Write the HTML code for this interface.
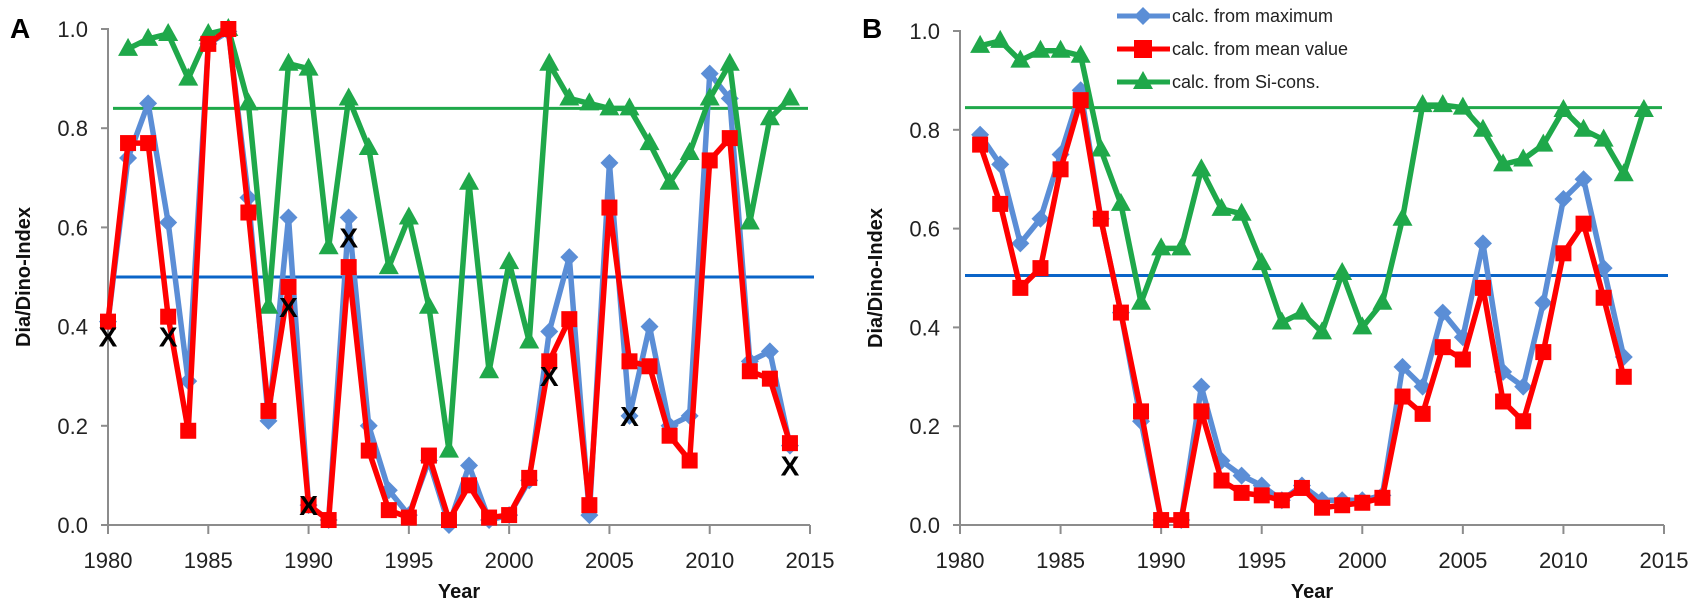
<!DOCTYPE html>
<html><head><meta charset="utf-8"><style>
html,body{margin:0;padding:0;background:#fff;}
svg{display:block;font-family:"Liberation Sans",sans-serif;}
</style></head><body>
<svg id="chart" width="1695" height="602" viewBox="0 0 1695 602"></svg>
<script>
const years = [];for(let y=1980;y<=2014;y++)years.push(y);
const xTicks=[1980,1985,1990,1995,2000,2005,2010,2015];
const yTicks=[0,0.2,0.4,0.6,0.8,1.0];
const yTickLabels=["0.0","0.2","0.4","0.6","0.8","1.0"];
// Panel A (1980-2014; green starts 1981)
const aMax=[0.41,0.74,0.85,0.61,0.29,0.97,0.995,0.66,0.21,0.62,0.04,0.01,0.62,0.20,0.07,0.02,0.13,0.0,0.12,0.01,0.02,0.09,0.39,0.54,0.02,0.73,0.22,0.40,0.20,0.22,0.91,0.86,0.33,0.35,0.16];
const aMean=[0.41,0.77,0.77,0.42,0.19,0.97,1.0,0.63,0.23,0.48,0.04,0.01,0.52,0.15,0.03,0.015,0.14,0.01,0.08,0.015,0.02,0.095,0.33,0.415,0.04,0.64,0.33,0.32,0.18,0.13,0.735,0.78,0.31,0.295,0.165];
const aSi=[null,0.96,0.98,0.99,0.90,0.99,1.0,0.85,0.44,0.93,0.92,0.56,0.86,0.76,0.52,0.62,0.44,0.15,0.69,0.31,0.53,0.37,0.93,0.86,0.85,0.84,0.84,0.77,0.69,0.75,0.86,0.93,0.61,0.82,0.86];
const aXYears=[1980,1983,1989,1990,1992,2002,2006,2014];
const aXVals=[0.38,0.38,0.44,0.04,0.58,0.30,0.22,0.12];
const aSiRef=0.84, aMaxRef=0.50;
// Panel B
const bMax=[null,0.79,0.73,0.57,0.62,0.75,0.88,0.62,0.43,0.21,0.01,0.01,0.28,0.13,0.10,0.08,0.05,0.08,0.05,0.05,0.05,0.06,0.32,0.28,0.43,0.38,0.57,0.31,0.28,0.45,0.66,0.70,0.52,0.34,null];
const bMean=[null,0.77,0.65,0.48,0.52,0.72,0.86,0.62,0.43,0.23,0.01,0.01,0.23,0.09,0.065,0.06,0.05,0.075,0.035,0.04,0.045,0.055,0.26,0.225,0.36,0.335,0.48,0.25,0.21,0.35,0.55,0.61,0.46,0.30,null];
const bSi=[null,0.97,0.98,0.94,0.96,0.96,0.95,0.76,0.65,0.45,0.56,0.56,0.72,0.64,0.63,0.53,0.41,0.43,0.39,0.51,0.40,0.45,0.62,0.85,0.85,0.845,0.80,0.73,0.74,0.77,0.84,0.80,0.78,0.71,0.84];
const bSiRef=0.845, bMaxRef=0.505;

const NS="http://www.w3.org/2000/svg";
const svg=document.getElementById('chart');
function mk(tag,attrs,parent){const e=document.createElementNS(NS,tag);for(const k in attrs)e.setAttribute(k,attrs[k]);(parent||svg).appendChild(e);return e;}

function panel(p){
  const g=mk('g',{});
  
  
  const X=v=>p.x0+(v-1980)/35*(p.x1-p.x0);
  const Y=v=>p.y0-v*(p.y0-p.y1);
  const ax=mk('path',{d:`M${p.x0-6},${Y(1)}H${p.x0}V${p.y0}H${p.x1}`,fill:'none',stroke:'#8c8c8c','stroke-width':2},g);
  
  
  yTicks.forEach((t,i)=>{
    mk('line',{x1:p.x0-7,x2:p.x0,y1:Y(t),y2:Y(t),stroke:'#8c8c8c','stroke-width':2},g);
    const tx=mk('text',{x:p.x0-20,y:Y(t)+8,'text-anchor':'end','font-size':22,fill:'#222'},g);
    tx.textContent=yTickLabels[i];
    
    
  });
  xTicks.forEach(t=>{
    mk('line',{x1:X(t),x2:X(t),y1:p.y0,y2:p.y0+9,stroke:'#8c8c8c','stroke-width':2},g);
    const tx=mk('text',{x:X(t),y:p.y0+43,'text-anchor':'middle','font-size':22,fill:'#222'},g);
    tx.textContent=t;
    
    
  });
  const yt=mk('text',{transform:`translate(${p.x0-78},${(p.y0+p.y1)/2}) rotate(-90)`,'text-anchor':'middle','font-size':20,'font-weight':'bold',fill:'#111'},g);
  yt.textContent='Dia/Dino-Index';
  
  
  const xt=mk('text',{x:(p.x0+p.x1)/2,y:p.y0+73,'text-anchor':'middle','font-size':20,'font-weight':'bold',fill:'#111'},g);
  xt.textContent='Year';
  
  
  const pl=mk('text',{x:p.x0-98,y:38,'font-size':28,'font-weight':'bold',fill:'#000'},g);
  pl.textContent=p.label;
  
  
  const rg=mk('line',{x1:p.x0+5,x2:p.x1-2,y1:Y(p.siRef),y2:Y(p.siRef),stroke:'#1fa84a','stroke-width':3},g);
  
  
  const rb=mk('line',{x1:p.x0+5,x2:p.x1+4,y1:Y(p.maxRef),y2:Y(p.maxRef),stroke:'#0a64c8','stroke-width':3},g);
  
  
  function series(vals,color,marker,name){
    const sg=mk('g',{},g);
    
    
    let d='';vals.forEach((v,i)=>{if(v==null)return;d+=(d?'L':'M')+X(years[i])+','+Y(v);});
    mk('path',{d:d,fill:'none',stroke:color,'stroke-width':5.5,'stroke-linejoin':'round'},sg);
    vals.forEach((v,i)=>{if(v==null)return;const cx=X(years[i]),cy=Y(v);let m;
      if(marker==='d')m=mk('path',{d:`M${cx},${cy-9}L${cx+9},${cy}L${cx},${cy+9}L${cx-9},${cy}Z`,fill:color},sg);
      else if(marker==='s')m=mk('rect',{x:cx-8,y:cy-8,width:16,height:16,fill:color},sg);
      else m=mk('path',{d:`M${cx},${cy-11}L${cx+10},${cy+7}L${cx-10},${cy+7}Z`,fill:color},sg);
      
      
    });
  }
  series(p.max,'#5b8ed6','d','series-maximum');
  series(p.si,'#1fa84a','t','series-si-cons');
  series(p.mean,'#ff0000','s','series-mean');
  if(p.xy){p.xy.forEach((yr,i)=>{const t=mk('text',{x:X(yr),y:Y(p.xv[i])+10,'text-anchor':'middle','font-size':28,'font-weight':'bold',fill:'#000'},g);
    t.textContent='X';
    
    });}
}
panel({name:'panel-a',label:'A',x0:108,x1:810,y0:525,y1:29,max:aMax,mean:aMean,si:aSi,siRef:aSiRef,maxRef:aMaxRef,xy:aXYears,xv:aXVals});
panel({name:'panel-b',label:'B',x0:960,x1:1664,y0:525,y1:31,max:bMax,mean:bMean,si:bSi,siRef:bSiRef,maxRef:bMaxRef});

const lg=mk('g',{});


const leg=[['calc. from maximum','#5b8ed6','d'],['calc. from mean value','#ff0000','s'],['calc. from Si-cons.','#1fa84a','t']];
leg.forEach((l,i)=>{const y=16+i*33;const e=mk('g',{},lg);
  
  
  mk('line',{x1:1117,x2:1170,y1:y,y2:y,stroke:l[1],'stroke-width':5},e);
  const cx=1143;
  if(l[2]==='d')mk('path',{d:`M${cx},${y-9}L${cx+9},${y}L${cx},${y+9}L${cx-9},${y}Z`,fill:l[1]},e);
  else if(l[2]==='s')mk('rect',{x:cx-9,y:y-9,width:18,height:18,fill:l[1]},e);
  else mk('path',{d:`M${cx},${y-11}L${cx+10},${y+7}L${cx-10},${y+7}Z`,fill:l[1]},e);
  const t=mk('text',{x:1172,y:y+6,'font-size':18,fill:'#222'},e);t.textContent=l[0];});
</script>
</body></html>
